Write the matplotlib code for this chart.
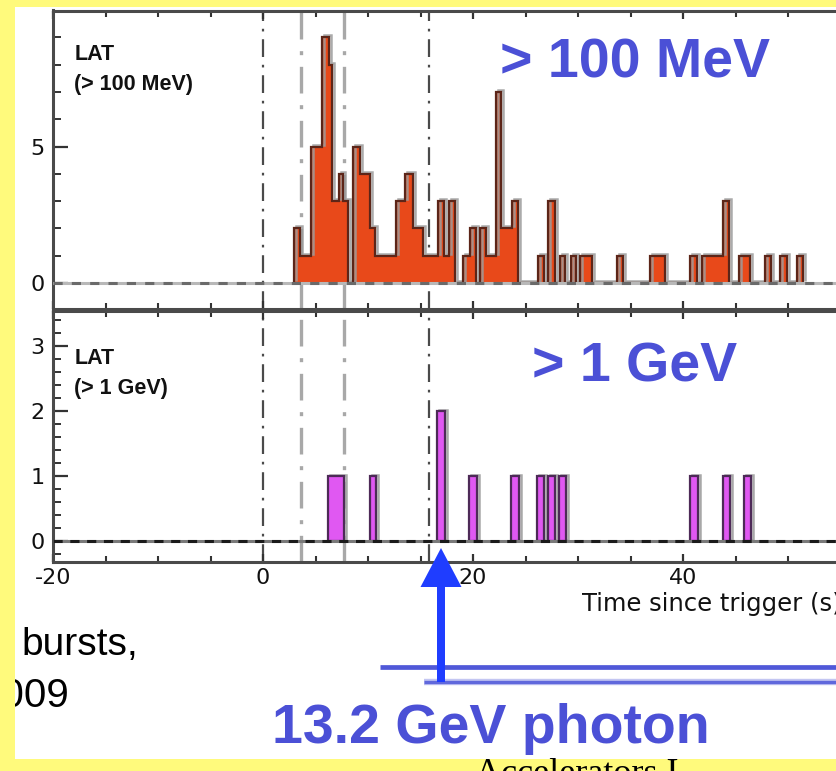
import matplotlib
matplotlib.use("Agg")
import matplotlib.pyplot as plt
import matplotlib.transforms as mtransforms
from matplotlib.patches import Rectangle, FancyArrow
from matplotlib.ticker import FixedLocator, MultipleLocator

plt.rcParams["axes.unicode_minus"] = False

W, H = 837, 771

# LAT > 100 MeV light curve: bin edges (s since trigger) and counts per bin
edges_100mev = [2.95, 3.5, 4.6, 5.65, 6.3, 6.6, 7.25, 7.65, 8.1, 8.6,
                9.25, 10.2, 10.7, 12.7, 13.5, 14.3, 15.27, 16.7, 17.25, 17.7,
                18.3, 19.08, 19.7, 20.3, 20.67, 21.2, 22.2, 22.7, 23.75, 24.25,
                26.2, 26.75, 27.17, 27.8, 28.25, 28.76, 29.3, 29.8, 30.15, 31.38,
                33.75, 34.28, 36.86, 38.29, 40.7, 41.38, 41.8, 43.84, 44.4, 45.35,
                46.42, 47.8, 48.35, 49.24, 49.92, 50.83, 51.4]
counts_100mev = [2, 1, 5, 9, 8, 3, 4, 3, 0, 5,
                 4, 2, 1, 3, 4, 2, 1, 3, 1, 3,
                 0, 1, 2, 0, 2, 1, 7, 2, 3, 0,
                 1, 0, 3, 0, 1, 0, 1, 0, 1, 0,
                 1, 0, 1, 0, 1, 0, 1, 3, 0, 1,
                 0, 1, 0, 1, 0, 1]

# LAT > 1 GeV photons: bin start, bin end (s) and counts
gev_start = [6.15, 10.15, 16.6, 19.6, 23.6, 26.12, 27.17, 28.2, 40.65, 43.8, 45.78]
gev_end = [7.7, 10.75, 17.3, 20.35, 24.35, 26.8, 27.8, 28.9, 41.45, 44.5, 46.45]
gev_counts = [1, 1, 2, 1, 1, 1, 1, 1, 1, 1, 1]

# time-interval boundaries (s)
bounds_dark = [0.0, 15.8]
bounds_light = [3.6, 7.7]

x_ticks = [-20, 0, 20, 40]
y1_ticks = [0, 5]
y2_ticks = [0, 1, 2, 3]

YELLOW = "#fffa7c"
LABEL_BLUE = "#4b50d6"

fig = plt.figure(figsize=(W / 100, H / 100), dpi=100, facecolor="white")


def box(left, top, right, bottom):
    return [left / W, 1 - bottom / H, (right - left) / W, (bottom - top) / H]


XMIN, XMAX = -20, 60
PX_PER_S = 10.5
right_px = 53 + (XMAX - XMIN) * PX_PER_S

ax1 = fig.add_axes(box(53, 10.5, right_px, 309))
ax2 = fig.add_axes(box(53, 310.5, right_px, 562))


def style(ax):
    for s in ax.spines.values():
        s.set_color("#4a4a4a")
        s.set_linewidth(2.2)
    ax.set_xlim(XMIN, XMAX)
    ax.xaxis.set_major_locator(FixedLocator(x_ticks))
    ax.xaxis.set_minor_locator(MultipleLocator(5))
    ax.tick_params(which="both", direction="in", top=True, right=True,
                   color="#333333", labelcolor="#111111")
    ax.tick_params(axis="x", which="major", length=6, width=1.6, pad=4)
    ax.tick_params(axis="x", which="minor", length=4, width=1.5)
    ax.tick_params(axis="y", which="major", length=11, width=1.6, pad=6)
    ax.tick_params(axis="y", which="minor", length=5.5, width=1.4)


def tick_fonts(ax):
    for lab in ax.get_xticklabels() + ax.get_yticklabels():
        lab.set_fontfamily("DejaVu Sans")
        lab.set_fontsize(16)


def boundaries(ax):
    for t in bounds_dark:
        ax.axvline(t, color="#4a4a4a", lw=1.6, dashes=(8, 3.5, 1.2, 3.5), zorder=1)
    for t in bounds_light:
        ax.axvline(t, color="#a8a8a8", lw=2.4, dashes=(8, 3.5, 1.2, 3.5), zorder=1)


# ---- top panel: > 100 MeV ----
style(ax1)
ax1.set_ylim(-0.95, 9.98)
ax1.yaxis.set_major_locator(FixedLocator(y1_ticks))
ax1.yaxis.set_minor_locator(MultipleLocator(1))
ax1.tick_params(axis="x", labelbottom=False)
tick_fonts(ax1)
boundaries(ax1)

shadow1 = mtransforms.offset_copy(ax1.transData, fig=fig, x=2, y=2, units="dots")
ax1.stairs(counts_100mev, edges_100mev, baseline=0, fill=True,
           color="#e8491a", lw=0, zorder=2)
ax1.stairs(counts_100mev, edges_100mev, baseline=0, fill=False,
           color="#9c9c9c", lw=1.8, alpha=0.85, transform=shadow1, zorder=2.2)
ax1.stairs(counts_100mev, edges_100mev, baseline=0, fill=False,
           color="#5c2518", lw=1.6, zorder=2.4)
ax1.axhline(0, color="#b8b8b8", lw=2.2, zorder=3)
ax1.axhline(0, color="#6a6a6a", lw=2.2, dashes=(3, 3), zorder=3.1)

# ---- bottom panel: > 1 GeV ----
style(ax2)
ax2.set_ylim(-0.33, 3.54)
ax2.yaxis.set_major_locator(FixedLocator(y2_ticks))
ax2.yaxis.set_minor_locator(MultipleLocator(0.2))
tick_fonts(ax2)
boundaries(ax2)

shadow2 = mtransforms.offset_copy(ax2.transData, fig=fig, x=2, y=1, units="dots")
for t0, t1, n in zip(gev_start, gev_end, gev_counts):
    ax2.add_patch(Rectangle((t0, 0), t1 - t0, n, fill=False, edgecolor="#a8a8a8",
                            lw=1.8, transform=shadow2, zorder=2))
ax2.bar(gev_start, gev_counts, width=[b - a for a, b in zip(gev_start, gev_end)],
        align="edge", color="#e058f2", edgecolor="#4d2a57", lw=1.6, zorder=2.4)
ax2.axhline(0, color="#7a7a7a", lw=2.2, zorder=3)
ax2.axhline(0, color="#1a1a1a", lw=2.2, dashes=(3, 2.5), zorder=3.1)

# ---- overlay in pixel coordinates: slide frame, annotations ----
ov = fig.add_axes([0, 0, 1, 1], zorder=10)
ov.set_xlim(0, W)
ov.set_ylim(H, 0)
ov.axis("off")
ov.patch.set_alpha(0)

# panel labels
ov.text(75, 60, "LAT", fontfamily="Liberation Sans", fontweight="bold",
        fontsize=15.5, color="#111111", va="baseline")
ov.text(74, 90, "(> 100 MeV)", fontfamily="Liberation Sans", fontweight="bold",
        fontsize=15.5, color="#111111", va="baseline")
ov.text(75, 364, "LAT", fontfamily="Liberation Sans", fontweight="bold",
        fontsize=15.5, color="#111111", va="baseline")
ov.text(74, 394, "(> 1 GeV)", fontfamily="Liberation Sans", fontweight="bold",
        fontsize=15.5, color="#111111", va="baseline")

# energy-band headings
ov.text(500, 78, "> 100 MeV", fontfamily="Liberation Sans", fontweight="bold",
        fontsize=40, color=LABEL_BLUE, va="baseline")
ov.text(532, 382, "> 1 GeV", fontfamily="Liberation Sans", fontweight="bold",
        fontsize=40, color=LABEL_BLUE, va="baseline")

# axis title
ov.text(582, 611, "Time since trigger (s)", fontfamily="DejaVu Sans",
        fontsize=17.5, color="#111111", va="baseline")

# slide text
ov.text(21, 655, "bursts,", fontfamily="Liberation Sans", fontsize=28,
        color="black", va="baseline", zorder=2)
ov.text(69, 707, "2009", fontfamily="Liberation Sans", fontsize=29,
        color="black", va="baseline", ha="right", zorder=2)

# callout lines and arrow to the 13.2 GeV photon
ov.plot([380, W], [667, 667], color="#5058d8", lw=3.4, solid_capstyle="butt", zorder=3)
ov.plot([424, W], [682, 682], color="#c3c6f2", lw=4.6, solid_capstyle="butt", zorder=3)
ov.plot([424, W], [682, 682], color="#6068dc", lw=2.4, solid_capstyle="butt", zorder=3.1)
ov.add_patch(FancyArrow(441, 682, 0, 548 - 682, width=8, head_width=41,
                        head_length=39, length_includes_head=True,
                        color="#1f3dff", lw=0, zorder=4))
ov.text(272, 743, "13.2 GeV photon", fontfamily="Liberation Sans", fontweight="bold",
        fontsize=40, color=LABEL_BLUE, va="baseline", zorder=4)

# yellow slide border
ov.add_patch(Rectangle((0, 0), 15, H, color=YELLOW, lw=0, zorder=5))
ov.add_patch(Rectangle((0, 0), W, 7, color=YELLOW, lw=0, zorder=5))
ov.add_patch(Rectangle((0, 759), W, H - 759, color=YELLOW, lw=0, zorder=5))
ov.text(577, 783, "Accelerators I", fontfamily="Liberation Serif", fontsize=26,
        color="black", va="baseline", ha="center", zorder=6)

fig.savefig("out.png", dpi=100, facecolor=fig.get_facecolor())
